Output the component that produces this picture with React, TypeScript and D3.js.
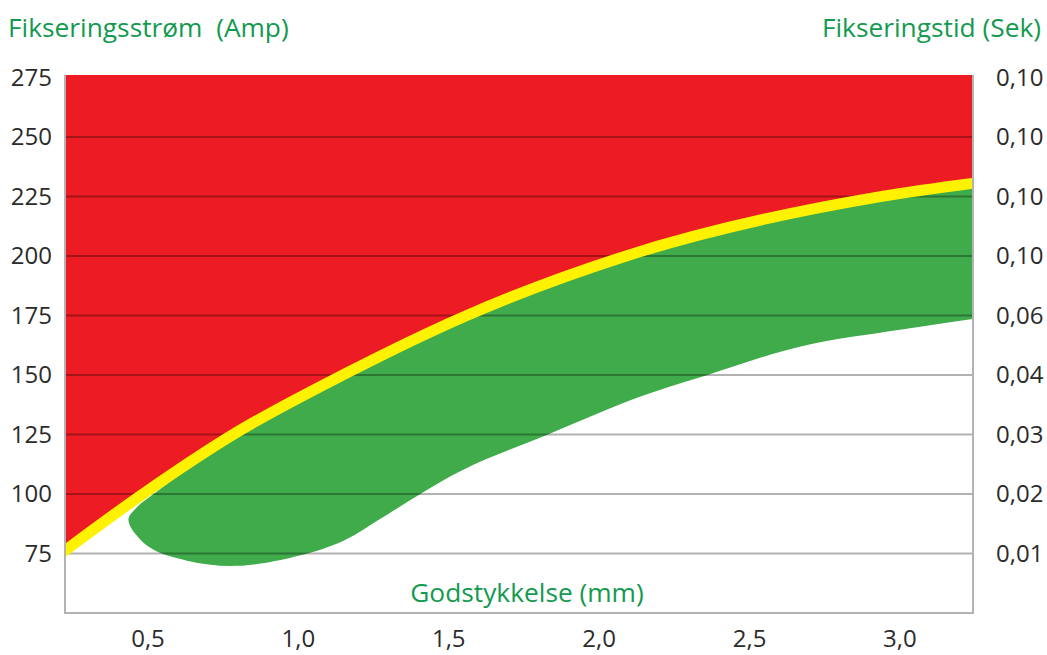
import * as d3 from 'd3';
import { useRef, useEffect } from "react"

// yellow limit curve (thickness mm -> current A)
const limitThickness = [0.2, 0.483, 0.783, 1.148, 1.56, 2.09, 2.94, 3.27]
const limitAmp = [74, 100, 125, 150, 175, 200, 225, 231]

// green working window, upper edge left to right
const greenTopThickness = [0.46, 0.53, 0.8, 1.0, 1.5, 2.0, 2.5, 3.0, 3.3, 3.6]
const greenTopAmp = [94, 101, 125.5, 140, 171, 195.5, 212.5, 225, 229.5, 233]
// green working window, lower edge right to left
const greenBottomThickness = [3.6, 3.3, 3.0, 2.67, 2.36, 2.14, 1.83, 1.54, 1.27, 1.16, 1.03, 0.8, 0.63, 0.5, 0.435]
const greenBottomAmp = [179, 174.5, 169, 162, 150, 141, 125, 109.7, 89.4, 81, 75, 69.8, 72, 78, 89]

const ampTicks = [75, 100, 125, 150, 175, 200, 225, 250, 275]
const timeLabels = ["0,01", "0,02", "0,03", "0,04", "0,06", "0,10", "0,10", "0,10", "0,10"]
const thicknessTicks = [0.5, 1.0, 1.5, 2.0, 2.5, 3.0]

function App() {
    const ref = useRef<SVGSVGElement | null>(null)

    useEffect(() => {
        renderChart();
    }, [])

    function renderChart() {
        const W = 1047, H = 655
        const left = 65, right = 973, top = 75, bottom = 613
        const font = "'Open Sans', 'Noto Sans', sans-serif"
        const titleGreen = "#139a4f"

        const svg = d3.select(ref.current!)
        svg.selectAll("*").remove()
        svg.attr("width", W).attr("height", H)

        const x = d3.scaleLinear().domain([0.224, 3.243]).range([left, right])
        const y = d3.scaleLinear().domain([50, 276]).range([bottom, top])

        svg.append("defs").append("clipPath").attr("id", "plot-clip")
            .append("rect")
            .attr("x", left).attr("y", top)
            .attr("width", right - left).attr("height", bottom - top)

        const plot = svg.append("g").attr("clip-path", "url(#plot-clip)")

        const limit = limitThickness.map((t, i) => [t, limitAmp[i]] as [number, number])

        // red area above the limit
        const redArea = d3.area<[number, number]>()
            .x(d => x(d[0]))
            .y0(y(280))
            .y1(d => y(d[1]))
            .curve(d3.curveMonotoneX)
        plot.append("path")
            .attr("d", redArea(limit)!)
            .attr("fill", "#ed1c24")

        // green window
        const blob = [
            ...greenTopThickness.map((t, i) => [t, greenTopAmp[i]] as [number, number]),
            ...greenBottomThickness.map((t, i) => [t, greenBottomAmp[i]] as [number, number]),
        ]
        const blobLine = d3.line<[number, number]>()
            .x(d => x(d[0]))
            .y(d => y(d[1]))
            .curve(d3.curveCatmullRomClosed.alpha(0.5))
        plot.append("path")
            .attr("d", blobLine(blob)!)
            .attr("fill", "#3fab4a")

        // grid lines
        plot.append("g")
            .selectAll("line")
            .data(ampTicks.filter(v => v < 275))
            .enter()
            .append("line")
            .attr("x1", left)
            .attr("x2", right)
            .attr("y1", d => y(d))
            .attr("y2", d => y(d))
            .attr("stroke", "#000")
            .attr("stroke-opacity", 0.3)
            .attr("stroke-width", 2)

        // yellow limit line
        const limitLine = d3.line<[number, number]>()
            .x(d => x(d[0]))
            .y(d => y(d[1]))
            .curve(d3.curveMonotoneX)
        plot.append("path")
            .attr("d", limitLine(limit)!)
            .attr("fill", "none")
            .attr("stroke", "#fff200")
            .attr("stroke-width", 11)

        // frame (left, bottom, right)
        svg.append("path")
            .attr("d", `M${left},${top}V${bottom}H${right}V${top}`)
            .attr("fill", "none")
            .attr("stroke", "#b3b3b3")
            .attr("stroke-width", 2)

        // left axis labels
        svg.append("g")
            .selectAll("text")
            .data(ampTicks)
            .enter()
            .append("text")
            .attr("x", 52)
            .attr("y", d => y(d) + 8.5)
            .attr("text-anchor", "end")
            .style("font-family", font)
            .style("font-size", "24px")
            .style("fill", "#2b2b2b")
            .text(d => String(d))

        // right axis labels
        svg.append("g")
            .selectAll("text")
            .data(ampTicks)
            .enter()
            .append("text")
            .attr("x", 996)
            .attr("y", d => y(d) + 8.5)
            .style("font-family", font)
            .style("font-size", "24px")
            .style("fill", "#2b2b2b")
            .text((_d, i) => timeLabels[i])

        // bottom labels
        svg.append("g")
            .selectAll("text")
            .data(thicknessTicks)
            .enter()
            .append("text")
            .attr("x", d => x(d))
            .attr("y", 647)
            .attr("text-anchor", "middle")
            .style("font-family", font)
            .style("font-size", "24px")
            .style("fill", "#2b2b2b")
            .text(d => d.toFixed(1).replace(".", ","))

        // titles
        svg.append("text")
            .attr("x", 8)
            .attr("y", 37)
            .style("font-family", font)
            .style("font-size", "26.3px")
            .style("fill", titleGreen)
            .text("Fikseringsstrøm\u00a0 (Amp)")

        svg.append("text")
            .attr("x", 1041)
            .attr("y", 37)
            .attr("text-anchor", "end")
            .style("font-family", font)
            .style("font-size", "26.3px")
            .style("fill", titleGreen)
            .text("Fikseringstid (Sek)")

        svg.append("text")
            .attr("x", 527)
            .attr("y", 602)
            .attr("text-anchor", "middle")
            .style("font-family", font)
            .style("font-size", "26.3px")
            .style("fill", titleGreen)
            .text("Godstykkelse (mm)")
    }

    return (
        <svg
            ref={ref}
            style={{ position: 'absolute', left: 0, top: 0 }}
        />
    )
}

export default App;
